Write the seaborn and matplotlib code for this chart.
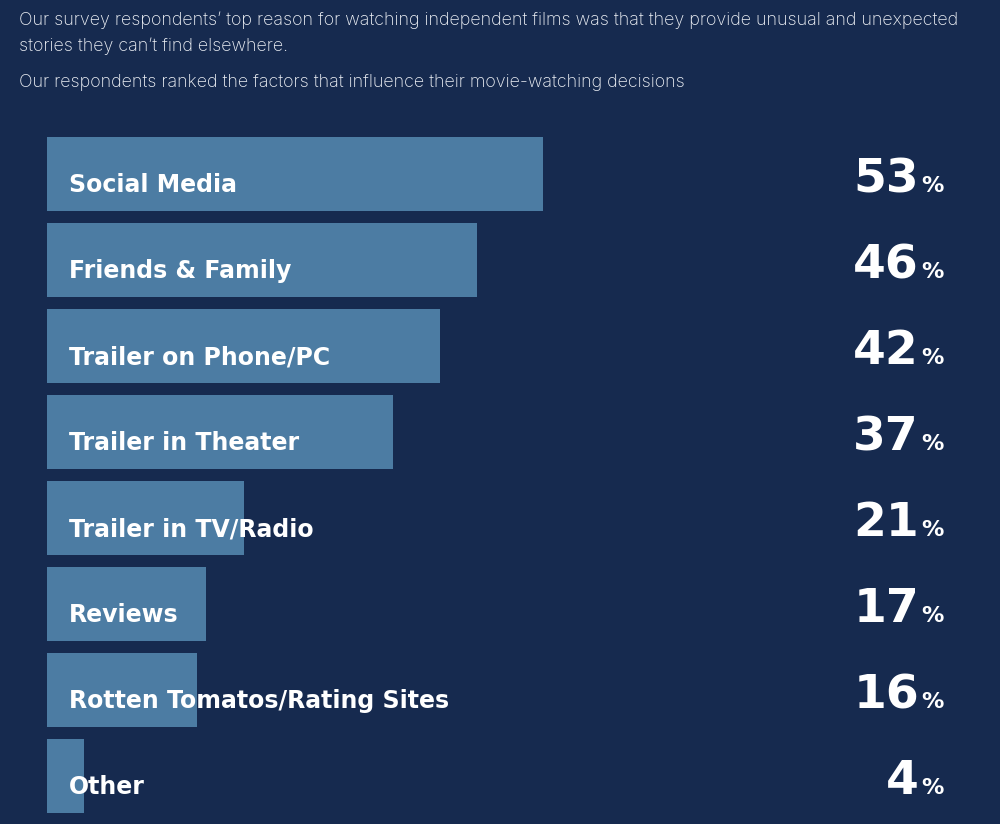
import matplotlib
matplotlib.use("Agg")
import matplotlib.pyplot as plt
import matplotlib.transforms as mtransforms
import pandas as pd
import seaborn as sns

factors = ["Social Media", "Friends & Family", "Trailer on Phone/PC", "Trailer in Theater",
           "Trailer in TV/Radio", "Reviews", "Rotten Tomatos/Rating Sites", "Other"]
shares = [53, 46, 42, 37, 21, 17, 16, 4]

intro_lines = [
    "Our survey respondents\u2019 top reason for watching independent films was that they provide unusual and unexpected",
    "stories they can\u2019t find elsewhere.",
    "Our respondents ranked the factors that influence their movie-watching decisions",
]

df = pd.DataFrame({"factor": factors, "share": shares})

BG = "#162a4f"
BAR = "#4c7ca3"

sns.set_theme(style="white")
plt.rcParams["font.family"] = ["DejaVu Sans"]

W, H = 1000, 824
fig = plt.figure(figsize=(W / 100, H / 100), dpi=100, facecolor=BG)

# axes placed in pixel terms: bars start at x=47, 53% reaches x=543
left_px, top_px, bottom_px = 47, 131, 819
px_per_pct = (543 - 47) / 53
ax = fig.add_axes([left_px / W, 1 - bottom_px / H, 100 * px_per_pct / W, (bottom_px - top_px) / H])
ax.set_facecolor(BG)

sns.barplot(data=df, x="share", y="factor", orient="h", color=BAR, width=0.87,
            saturation=1, linewidth=0, ax=ax)
ax.set_xlim(0, 100)
ax.set_ylim(len(factors) - 0.5, -0.5)
ax.set_axis_off()

# figure-x / data-y transform for the percentage numbers
trans = mtransforms.blended_transform_factory(fig.transFigure, ax.transData)

for i, (name, val) in enumerate(zip(factors, shares)):
    ax.text(22 / px_per_pct, i + 0.21, name, ha="left", va="baseline",
            color="white", fontsize=17, fontweight="bold")
    ax.text(919 / W, i + 0.21, str(val), transform=trans, ha="right", va="baseline",
            color="white", fontsize=34, fontweight="heavy")
    ax.text(921 / W, i + 0.21, "%", transform=trans, ha="left", va="baseline",
            color="white", fontsize=16, fontweight="bold")

# intro text
baselines = [25, 51, 87]
for line, b in zip(intro_lines, baselines):
    fig.text(19 / W, 1 - b / H, line, ha="left", va="baseline", color="#eef1f6",
             fontsize=12.9, family=["Inter", "DejaVu Sans"], fontweight="light")

fig.savefig("out.png", dpi=100, facecolor=BG)
